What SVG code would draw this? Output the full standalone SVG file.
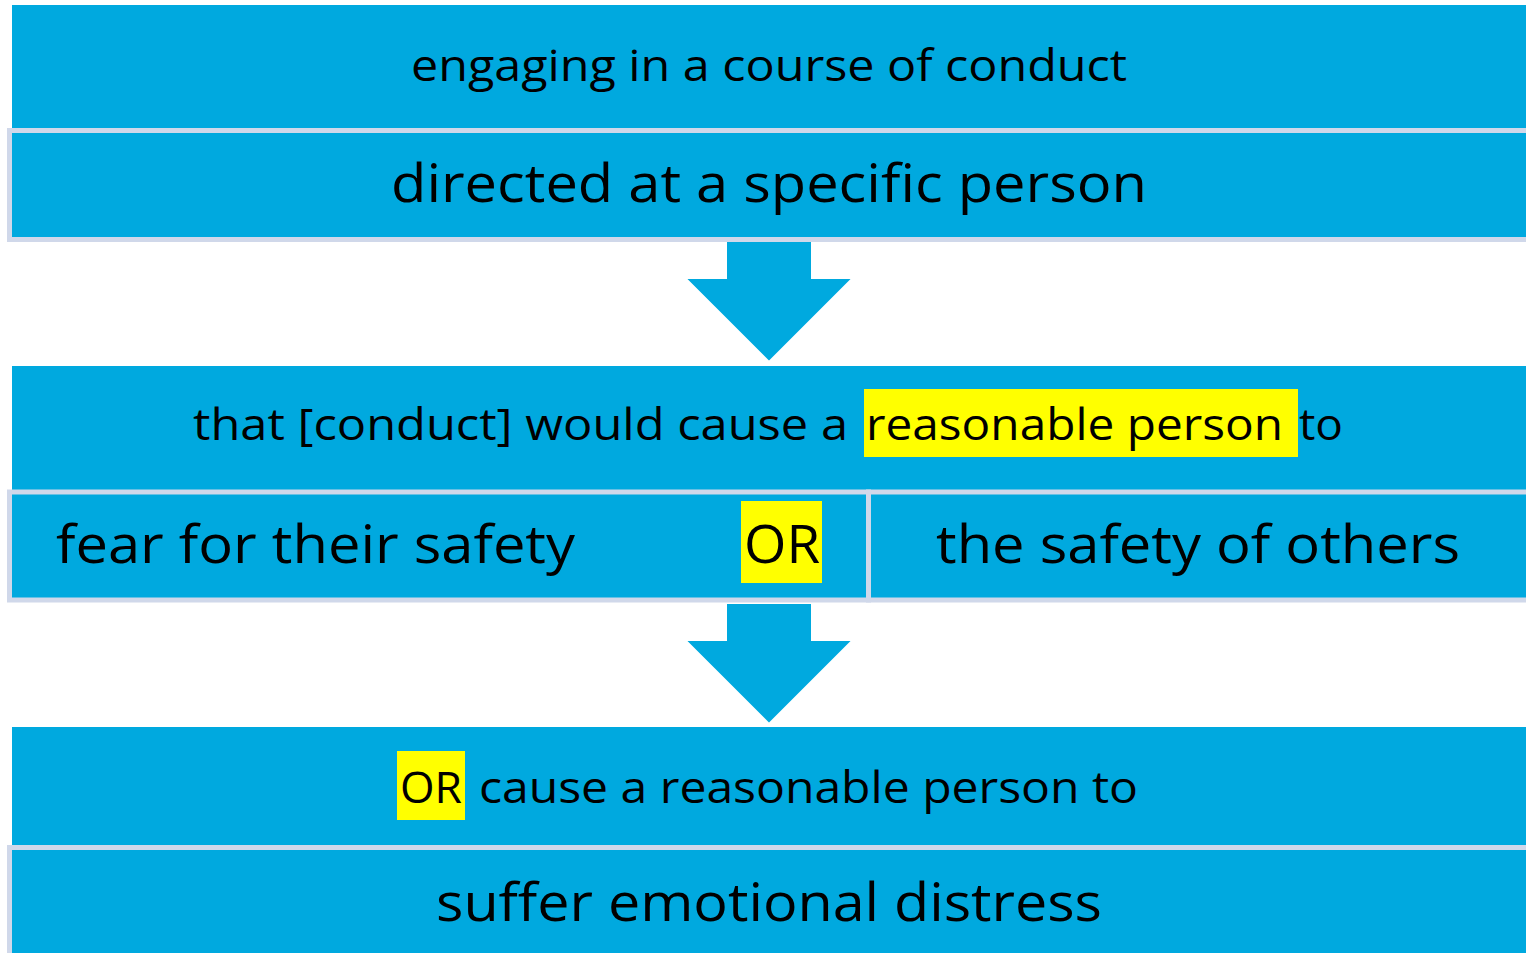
<svg xmlns="http://www.w3.org/2000/svg" width="1526" height="953" viewBox="0 0 1526 953">
<defs>
<style>
.band{fill:#00A9DF;}
.cell{fill:#00A9DF;stroke:#D0D8EA;stroke-width:5;}
.arrow{fill:#00A9DF;stroke:#FFFFFF;stroke-width:2;stroke-linejoin:miter;}
.hl{fill:#FFFF00;}
.t{font-family:"Open Sans","Noto Sans","Liberation Sans",sans-serif;fill:#000000;}
.s{font-size:44px;}
.l{font-size:53px;}
</style>
</defs>
<rect width="1526" height="953" fill="#FFFFFF"/>
<g id="connectors">
<polygon class="arrow" points="726,241 812,241 812,278 853,278 769,362 685,278 726,278"/>
<polygon class="arrow" points="726,603 812,603 812,640 853,640 769,724 685,640 726,640"/>
</g>
<g id="node-course">
<rect class="band" x="12" y="5" width="1530" height="124"/>
<text class="t s" x="411" y="81" textLength="716" lengthAdjust="spacingAndGlyphs">engaging in a course of conduct</text>
</g>
<g id="node-directed">
<rect class="cell" x="9.5" y="130.5" width="1530" height="109"/>
<text class="t l" x="391" y="202" textLength="756" lengthAdjust="spacingAndGlyphs">directed at a specific person</text>
</g>
<g id="node-reasonable">
<rect class="band" x="12" y="366" width="1530" height="125"/>
<rect class="hl" x="864" y="389" width="434" height="68"/>
<text class="t s" x="193" y="440" textLength="655" lengthAdjust="spacingAndGlyphs">that [conduct] would cause a</text>
<text class="t s" x="866" y="440" textLength="417" lengthAdjust="spacingAndGlyphs">reasonable person</text>
<text class="t s" x="1299" y="440" textLength="44" lengthAdjust="spacingAndGlyphs">to</text>
</g>
<g id="node-fear-self">
<rect class="cell" x="9.5" y="492" width="859" height="108"/>
<text class="t l" x="56" y="563" textLength="519" lengthAdjust="spacingAndGlyphs">fear for their safety</text>
<rect class="hl" x="741" y="501" width="81" height="82"/>
<text class="t l" x="744" y="563" textLength="76" lengthAdjust="spacingAndGlyphs">OR</text>
</g>
<g id="node-fear-others">
<rect class="cell" x="868.5" y="492" width="700" height="108"/>
<text class="t l" x="936" y="563" textLength="524" lengthAdjust="spacingAndGlyphs">the safety of others</text>
</g>
<g id="node-or-cause">
<rect class="band" x="12" y="727" width="1530" height="122"/>
<rect class="hl" x="397" y="751" width="68" height="69"/>
<text class="t s" x="400" y="803" textLength="62" lengthAdjust="spacingAndGlyphs">OR</text>
<text class="t s" x="479" y="803" textLength="659" lengthAdjust="spacingAndGlyphs">cause a reasonable person to</text>
</g>
<g id="node-distress">
<rect class="cell" x="9.5" y="847.5" width="1530" height="130"/>
<text class="t l" x="436" y="921" textLength="666" lengthAdjust="spacingAndGlyphs">suffer emotional distress</text>
</g>
</svg>
